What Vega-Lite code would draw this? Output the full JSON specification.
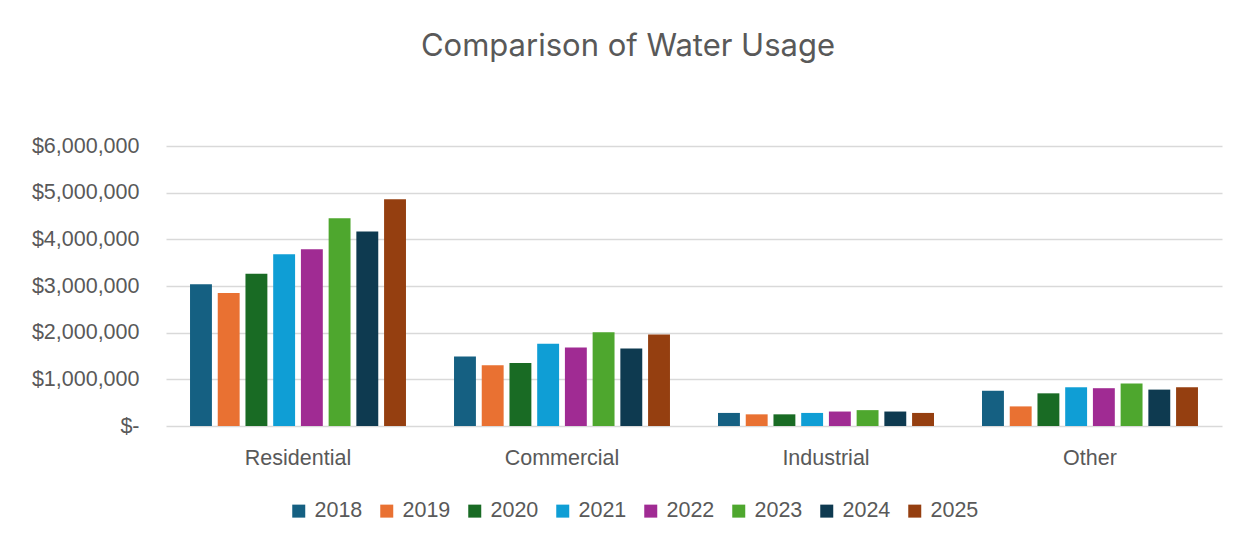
{
  "$schema": "https://vega.github.io/schema/vega-lite/v6.json",
  "autosize": "none",
  "width": 1056,
  "height": 280,
  "padding": {"left": 166, "top": 146, "right": 27, "bottom": 121},
  "background": "#FFFFFF",
  "title": {
    "text": "Comparison of Water Usage",
    "anchor": "middle",
    "frame": "group",
    "dx": -66,
    "offset": 72,
    "font": "Inter",
    "fontSize": 31,
    "fontWeight": "normal",
    "color": "#595959"
  },
  "data": {
    "values": [
      {"sector": "Residential", "year": "2018", "usage": 3040000},
      {"sector": "Residential", "year": "2019", "usage": 2850000},
      {"sector": "Residential", "year": "2020", "usage": 3260000},
      {"sector": "Residential", "year": "2021", "usage": 3680000},
      {"sector": "Residential", "year": "2022", "usage": 3790000},
      {"sector": "Residential", "year": "2023", "usage": 4450000},
      {"sector": "Residential", "year": "2024", "usage": 4170000},
      {"sector": "Residential", "year": "2025", "usage": 4860000},
      {"sector": "Commercial", "year": "2018", "usage": 1490000},
      {"sector": "Commercial", "year": "2019", "usage": 1300000},
      {"sector": "Commercial", "year": "2020", "usage": 1350000},
      {"sector": "Commercial", "year": "2021", "usage": 1760000},
      {"sector": "Commercial", "year": "2022", "usage": 1680000},
      {"sector": "Commercial", "year": "2023", "usage": 2010000},
      {"sector": "Commercial", "year": "2024", "usage": 1660000},
      {"sector": "Commercial", "year": "2025", "usage": 1960000},
      {"sector": "Industrial", "year": "2018", "usage": 280000},
      {"sector": "Industrial", "year": "2019", "usage": 250000},
      {"sector": "Industrial", "year": "2020", "usage": 250000},
      {"sector": "Industrial", "year": "2021", "usage": 280000},
      {"sector": "Industrial", "year": "2022", "usage": 310000},
      {"sector": "Industrial", "year": "2023", "usage": 340000},
      {"sector": "Industrial", "year": "2024", "usage": 310000},
      {"sector": "Industrial", "year": "2025", "usage": 280000},
      {"sector": "Other", "year": "2018", "usage": 755000},
      {"sector": "Other", "year": "2019", "usage": 420000},
      {"sector": "Other", "year": "2020", "usage": 700000},
      {"sector": "Other", "year": "2021", "usage": 830000},
      {"sector": "Other", "year": "2022", "usage": 810000},
      {"sector": "Other", "year": "2023", "usage": 910000},
      {"sector": "Other", "year": "2024", "usage": 780000},
      {"sector": "Other", "year": "2025", "usage": 830000}
    ]
  },
  "mark": {"type": "bar"},
  "encoding": {
    "x": {
      "field": "sector",
      "type": "nominal",
      "sort": ["Residential", "Commercial", "Industrial", "Other"],
      "scale": {"paddingInner": 0.182, "paddingOuter": 0.091},
      "axis": {
        "title": null,
        "labelAngle": 0,
        "domain": false,
        "ticks": false,
        "grid": false,
        "labelFont": "Liberation Sans",
        "labelFontSize": 21.5,
        "labelColor": "#595959",
        "labelPadding": 21
      }
    },
    "xOffset": {
      "field": "year",
      "type": "nominal",
      "scale": {"paddingInner": 0.21, "paddingOuter": 0}
    },
    "y": {
      "field": "usage",
      "type": "quantitative",
      "scale": {"domain": [0, 6000000], "nice": false},
      "axis": {
        "title": null,
        "values": [0, 1000000, 2000000, 3000000, 4000000, 5000000, 6000000],
        "labelExpr": "datum.value == 0 ? '$-' : format(datum.value, '$,')",
        "domain": false,
        "ticks": false,
        "grid": true,
        "gridColor": "#D9D9D9",
        "gridWidth": 1.5,
        "labelFont": "Liberation Sans",
        "labelFontSize": 21.5,
        "labelColor": "#595959",
        "labelPadding": 27
      }
    },
    "color": {
      "field": "year",
      "type": "nominal",
      "scale": {
        "domain": ["2018", "2019", "2020", "2021", "2022", "2023", "2024", "2025"],
        "range": ["#156082", "#E97132", "#196B24", "#0F9ED5", "#A02B93", "#4EA72E", "#0E3A50", "#953F10"]
      },
      "legend": {
        "title": null,
        "orient": "none",
        "direction": "horizontal",
        "legendX": 122,
        "legendY": 354,
        "symbolType": "square",
        "symbolSize": 169,
        "symbolStrokeWidth": 0,
        "labelFont": "Liberation Sans",
        "labelFontSize": 21.5,
        "labelColor": "#595959",
        "labelOffset": 5,
        "columnPadding": 13
      }
    }
  },
  "config": {
    "view": {"stroke": null}
  }
}
